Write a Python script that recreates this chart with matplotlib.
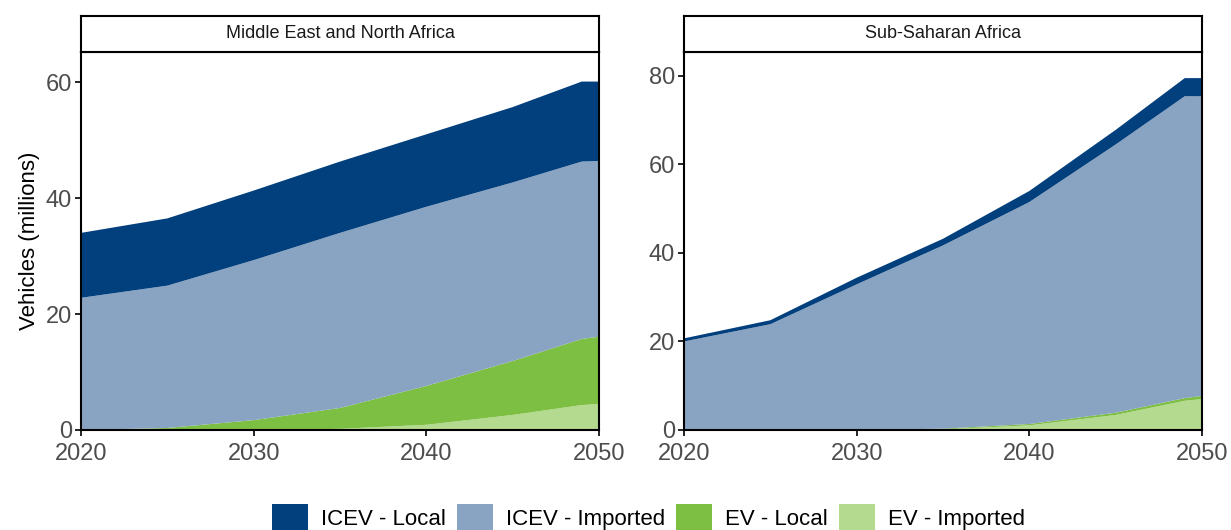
import numpy as np
import matplotlib.pyplot as plt
from matplotlib.patches import Patch

plt.rcParams['font.family'] = ['Liberation Sans', 'DejaVu Sans']

years = [2020, 2025, 2030, 2035, 2040, 2045, 2049, 2050]
labels = ['ICEV - Local', 'ICEV - Imported', 'EV - Local', 'EV - Imported']
colors = ['#023F7D', '#89A4C2', '#7DBF42', '#B3DA8E']

# Middle East and North Africa (millions)
mena_icev_local = [11.2, 11.6, 12.0, 12.3, 12.5, 13.0, 13.8, 13.7]
mena_icev_imp = [22.8, 24.55, 27.6, 30.2, 30.9, 30.8, 30.6, 30.3]
mena_ev_local = [0.0, 0.35, 1.7, 3.6, 6.7, 9.3, 11.4, 11.6]
mena_ev_imp = [0.0, 0.0, 0.0, 0.2, 0.9, 2.6, 4.3, 4.5]

# Sub-Saharan Africa (millions)
ssa_icev_local = [0.7, 0.9, 1.5, 1.5, 2.5, 3.3, 4.1, 4.1]
ssa_icev_imp = [20.0, 23.9, 32.9, 41.4, 50.15, 60.6, 68.2, 67.7]
ssa_ev_local = [0.0, 0.0, 0.0, 0.15, 0.3, 0.5, 0.6, 0.7]
ssa_ev_imp = [0.0, 0.0, 0.0, 0.15, 1.05, 3.4, 6.6, 7.0]

panels = [
    ('Middle East and North Africa',
     [mena_ev_imp, mena_ev_local, mena_icev_imp, mena_icev_local], 65.2, [0, 20, 40, 60]),
    ('Sub-Saharan Africa',
     [ssa_ev_imp, ssa_ev_local, ssa_icev_imp, ssa_icev_local], 85.4, [0, 20, 40, 60, 80]),
]

W, H = 1231, 530
fig = plt.figure(figsize=(W / 100, H / 100), dpi=100)

lefts = [81, 684]
width = 518
for (title, series, ymax, yticks), left in zip(panels, lefts):
    ax = fig.add_axes([left / W, (H - 430) / H, width / W, 378 / H])
    ax.stackplot(years, *series, colors=colors[::-1], linewidth=0)
    ax.set_xlim(2020, 2050)
    ax.set_ylim(0, ymax)
    ax.set_xticks([2020, 2030, 2040, 2050])
    ax.set_yticks(yticks)
    ax.tick_params(labelsize=17, labelcolor='#4D4D4D', length=4.5, width=1.2, color='black')
    ax.tick_params(axis='y', pad=2)
    ax.tick_params(axis='x', pad=4.5)
    for s in ax.spines.values():
        s.set_linewidth(1.5)
        s.set_color('black')
    # facet strip
    st = fig.add_axes([left / W, (H - 52) / H, width / W, 36 / H])
    st.set_xticks([])
    st.set_yticks([])
    for s in st.spines.values():
        s.set_linewidth(1.5)
    st.text(0.5, 0.5, title, ha='center', va='center', fontsize=13, color='#1A1A1A',
            transform=st.transAxes)
    if left == lefts[0]:
        ax.set_ylabel('Vehicles (millions)', fontsize=16, labelpad=4)

handles = [Patch(facecolor=c, edgecolor='none') for c in colors]
fig.legend(handles, labels, loc='center', bbox_to_anchor=(0.527, (H - 518) / H), ncol=4,
           frameon=False, fontsize=16, handlelength=1.6, handleheight=1.6,
           handletextpad=0.6, columnspacing=0.5, borderpad=0, borderaxespad=0)

fig.savefig('out.png', dpi=100)
